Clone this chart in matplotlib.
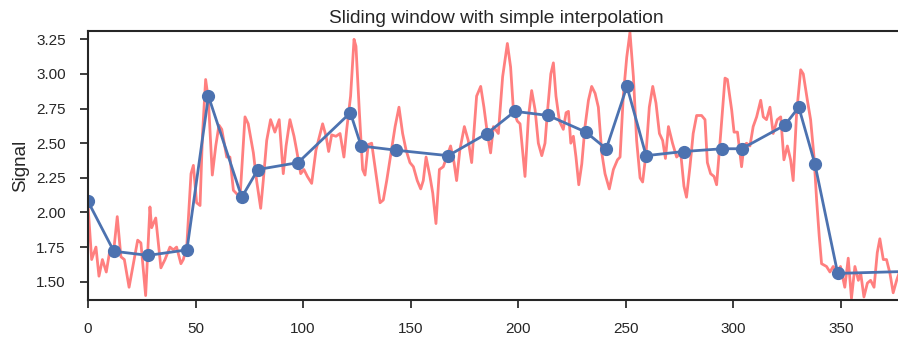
import matplotlib
matplotlib.use("Agg")
import matplotlib.pyplot as plt
import seaborn as sns

# raw signal (red)
sig_x = [0, 1.7, 3.7, 5.1, 6.7, 8.5, 10.2, 11.8, 13.6, 15.3, 16.9, 19.1, 21.1, 23.1, 24.6,
         26.8, 28.8, 29.6, 31.5, 33.9, 35.8, 38.1, 39.7, 41.2, 43.2, 44.3, 45.9, 47.9, 49.0,
         50.5, 52.1, 53.2, 54.7, 56.0, 57.8, 59.4, 60.9, 62.2, 64.5, 66.0, 67.6, 70.7, 73.0,
         74.5, 76.9, 78.4, 80.3, 81.5, 83.1, 84.9, 86.9, 88.9, 90.8, 92.1, 93.9, 95.8, 97.0,
         98.9, 100.4, 102.0, 104.0, 106.0, 109.1, 110.7, 111.9, 113.3, 115.3, 117.2, 119.0,
         120.3, 122.1, 123.7, 124.6, 126.2, 127.7, 128.8, 130.3, 131.9, 133.9, 135.8, 137.3,
         138.9, 140.4, 142.8, 144.6, 146.3, 147.9, 149.7, 151.3, 153.1, 154.7, 155.9, 157.2,
         159.0, 160.3, 161.8, 163.4, 165.2, 166.8, 168.6, 170.2, 171.4, 172.9, 175.0, 176.8,
         178.4, 180.7, 182.6, 184.1, 185.7, 187.2, 188.5, 190.8, 192.8, 195.0, 196.5, 197.8,
         199.6, 200.9, 203.2, 204.8, 206.3, 207.9, 209.4, 211.0, 212.5, 213.6, 215.2, 216.4,
         217.6, 219.2, 221.0, 222.3, 223.4, 224.5, 225.7, 226.9, 228.2, 229.6, 231.1, 232.7,
         234.2, 235.8, 237.3, 238.9, 240.4, 242.4, 244.3, 246.2, 247.4, 248.9, 250.5, 252.0,
         253.6, 255.1, 256.7, 257.9, 259.5, 261.0, 262.6, 264.1, 265.7, 267.2, 268.5, 269.9,
         271.8, 273.7, 275.6, 277.1, 278.3, 279.9, 281.4, 283.0, 285.3, 286.9, 288.0, 289.5,
         291.1, 292.3, 294.2, 296.2, 297.3, 299.3, 300.4, 302.0, 303.9, 305.0, 306.2, 307.8,
         309.3, 310.9, 312.8, 314.0, 315.5, 317.1, 318.6, 320.5, 322.1, 323.6, 325.2, 326.7,
         327.9, 329.5, 331.4, 332.6, 334.5, 336.0, 337.6, 338.8, 340.0, 341.1, 343.4, 345.0,
         346.5, 348.4, 349.9, 351.9, 353.5, 355.0, 356.6, 358.2, 359.3, 360.8, 362.4, 363.9,
         365.5, 367.0, 368.2, 369.8, 371.3, 372.9, 374.4, 376.0, 378.0]
sig_y = [2.05, 1.66, 1.75, 1.54, 1.66, 1.57, 1.73, 1.70, 1.97, 1.68, 1.66, 1.46, 1.63, 1.80, 1.78,
         1.40, 2.04, 1.89, 1.96, 1.60, 1.66, 1.75, 1.73, 1.75, 1.63, 1.66, 1.75, 2.28, 2.34,
         2.07, 2.05, 2.55, 2.96, 2.81, 2.27, 2.48, 2.63, 2.60, 2.40, 2.40, 2.16, 2.11, 2.69,
         2.64, 2.43, 2.23, 2.03, 2.23, 2.52, 2.67, 2.58, 2.67, 2.28, 2.48, 2.67, 2.55, 2.45,
         2.28, 2.31, 2.26, 2.21, 2.45, 2.64, 2.55, 2.44, 2.56, 2.55, 2.57, 2.40,
         2.60, 2.84, 3.25, 3.20, 2.72, 2.31, 2.27, 2.49, 2.50, 2.28, 2.07, 2.09,
         2.23, 2.38, 2.62, 2.76, 2.57, 2.45, 2.36, 2.33, 2.23, 2.17, 2.23, 2.40,
         2.26, 2.14, 1.92, 2.31, 2.33, 2.40, 2.48, 2.36, 2.23, 2.45, 2.62, 2.52,
         2.36, 2.84, 2.91, 2.76, 2.57, 2.43, 2.62, 2.57, 2.98, 3.22, 3.05, 2.74,
         2.66, 2.64, 2.26, 2.69, 2.88, 2.74, 2.50, 2.41, 2.50, 2.72, 3.00, 3.08,
         2.84, 2.66, 2.60, 2.72, 2.73, 2.50, 2.55, 2.40, 2.20, 2.35, 2.62, 2.81,
         2.91, 2.86, 2.76, 2.43, 2.28, 2.17, 2.31, 2.38, 2.40, 2.84, 3.12, 3.30,
         2.98, 2.52, 2.25, 2.22, 2.43, 2.76, 2.91, 2.79, 2.57, 2.52, 2.39, 2.62,
         2.50, 2.40, 2.43, 2.19, 2.11, 2.33, 2.57, 2.70, 2.70, 2.67, 2.36, 2.28,
         2.26, 2.20, 2.57, 2.97, 2.96, 2.74, 2.58, 2.58, 2.33, 2.48, 2.50, 2.48,
         2.62, 2.69, 2.81, 2.69, 2.67, 2.76, 2.57, 2.67, 2.69, 2.38, 2.48, 2.38,
         2.23, 2.72, 3.03, 3.00, 2.81, 2.67, 2.40, 2.09, 1.83, 1.63, 1.61, 1.57,
         1.61, 1.56, 1.61, 1.46, 1.67, 1.38, 1.61, 1.51, 1.56, 1.39, 1.49, 1.51,
         1.46, 1.71, 1.81, 1.66, 1.66, 1.56, 1.42, 1.51, 1.60]

# window estimates (blue)
win_x = [0, 12, 28, 46, 56, 71.5, 79, 97.7, 122, 127, 143, 167.5, 185.5, 198.5, 214,
         231.5, 241, 250.6, 259.5, 277, 295, 304, 324, 330.5, 338, 348.6, 382]
win_y = [2.08, 1.72, 1.69, 1.73, 2.84, 2.11, 2.31, 2.36, 2.72, 2.48, 2.45, 2.41, 2.57, 2.73,
         2.70, 2.58, 2.46, 2.91, 2.41, 2.44, 2.46, 2.46, 2.63, 2.76, 2.35, 1.56, 1.575]

sns.set_style("ticks")
plt.rcParams['font.family'] = ['Liberation Sans', 'DejaVu Sans']
plt.rcParams['text.color'] = '.15'
plt.rcParams['axes.labelcolor'] = '.15'
plt.rcParams['xtick.color'] = '.15'
plt.rcParams['ytick.color'] = '.15'

fig = plt.figure(figsize=(8.98, 3.38), dpi=100)
ax = fig.add_axes([88 / 898, 38 / 338, 380 * 2.1506 / 898, 269 / 338])

ax.plot(sig_x, sig_y, color='red', alpha=0.5, lw=2)
ax.plot(win_x, win_y, '-o', color='#4C72B0', lw=2, markersize=8.5)

ax.set_xlim(0, 380)
ax.set_ylim(1.368, 3.31)
ax.set_xticks([0, 50, 100, 150, 200, 250, 300, 350])
ax.set_yticks([1.5, 1.75, 2.0, 2.25, 2.5, 2.75, 3.0, 3.25])
ax.tick_params(labelsize=11, length=5.5, width=1.25, pad=10.5)
for s in ax.spines.values():
    s.set_linewidth(1.5)
    s.set_color('.15')
ax.set_ylabel("Signal", fontsize=13.5, labelpad=5)
ax.set_title("Sliding window with simple interpolation", fontsize=13.8)

fig.savefig("out.png", dpi=100)
